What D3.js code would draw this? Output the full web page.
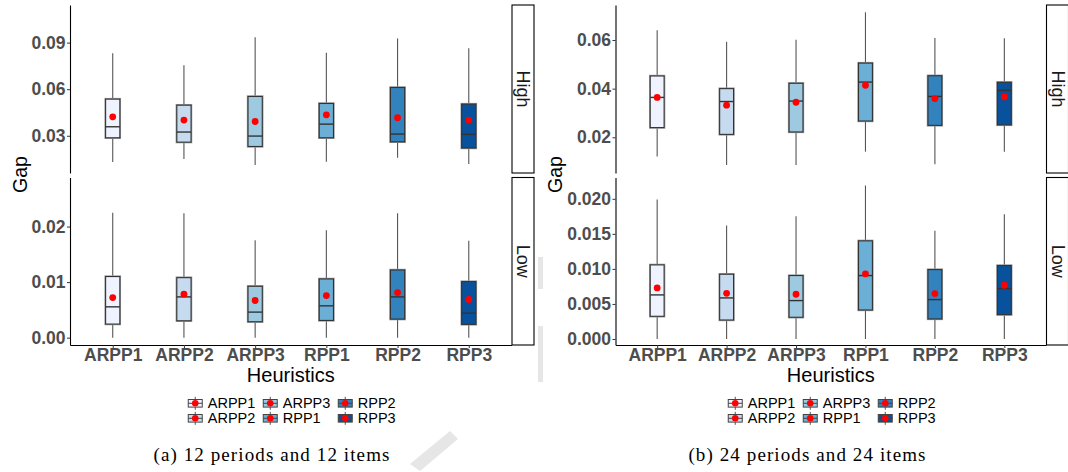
<!DOCTYPE html>
<html>
<head>
<meta charset="utf-8">
<script src="https://cdn.jsdelivr.net/npm/d3@7"></script>
<style>
  body { margin: 0; background: #fff; }
  svg { display: block; }
</style>
</head>
<body>
<div id="chart"></div>
<script>
//////////////////////////// data /////////////////////////////////////////

const heuristics = ["ARPP1", "ARPP2", "ARPP3", "RPP1", "RPP2", "RPP3"];
const fillColors = ["#eff3ff", "#c6dbef", "#9ecae1", "#6baed6", "#3182bd", "#08519c"];
const facetNames = ["High", "Low"];

// one row per heuristic: [lower whisker, Q1, median, Q3, upper whisker, mean]
const gap12High = [
	[0.0131, 0.0287, 0.0358, 0.0536, 0.0831, 0.0422],
	[0.0150, 0.0259, 0.0324, 0.0497, 0.0754, 0.0401],
	[0.0111, 0.0231, 0.0298, 0.0553, 0.0934, 0.0392],
	[0.0133, 0.0287, 0.0375, 0.0508, 0.0834, 0.0435],
	[0.0159, 0.0261, 0.0311, 0.0611, 0.0926, 0.0416],
	[0.0118, 0.0221, 0.0309, 0.0504, 0.0864, 0.0401]
];
const gap12Low = [
	[0, 0.00245, 0.00555, 0.0110, 0.0225, 0.00722],
	[0, 0.00304, 0.00734, 0.0108, 0.0224, 0.00782],
	[0, 0.00287, 0.00460, 0.00925, 0.01755, 0.00669],
	[0, 0.00310, 0.00573, 0.01057, 0.01934, 0.00758],
	[0, 0.00334, 0.00734, 0.01218, 0.0224, 0.00812],
	[0, 0.00239, 0.00442, 0.01009, 0.01743, 0.00687]
];
const gap24High = [
	[0.0121, 0.0240, 0.0364, 0.0452, 0.0640, 0.0364],
	[0.0086, 0.0212, 0.0347, 0.0400, 0.0593, 0.0332],
	[0.0086, 0.0222, 0.0349, 0.0422, 0.0601, 0.0344],
	[0.0141, 0.0267, 0.0427, 0.0505, 0.0714, 0.0414],
	[0.0089, 0.0249, 0.0368, 0.0453, 0.0608, 0.0359],
	[0.0141, 0.0251, 0.0393, 0.0426, 0.0607, 0.0366]
];
const gap24Low = [
	[0, 0.00324, 0.00629, 0.01057, 0.0199, 0.00729],
	[0, 0.00271, 0.00586, 0.00924, 0.0162, 0.00652],
	[0, 0.00310, 0.00548, 0.00905, 0.01752, 0.00638],
	[0, 0.00414, 0.00905, 0.0140, 0.0219, 0.00929],
	[0, 0.00286, 0.00562, 0.0099, 0.01543, 0.00648],
	[0, 0.00348, 0.00719, 0.01048, 0.0178, 0.00767]
];

// axis limits and ticks (free y scales per facet)
const domain12High = [0.00601, 0.11424];
const domain12Low = [-0.00132, 0.02883];
const domain24High = [0.00532, 0.07439];
const domain24Low = [-0.000857, 0.02304];
const ticks12High = [0.03, 0.06, 0.09];
const ticks12Low = [0, 0.01, 0.02];
const ticks24High = [0.02, 0.04, 0.06];
const ticks24Low = [0, 0.005, 0.01, 0.015, 0.02];

const captions = ["(a) 12 periods and 12 items", "(b) 24 periods and 24 items"];

//////////////////////////// svg //////////////////////////////////////////

const width = 1068;
const height = 472;
const sans = "'Liberation Sans', Arial, Helvetica, sans-serif";

const svg = d3.select("#chart").append("svg")
	.attr("width", width)
	.attr("height", height)
	.style("font-family", sans);

// faint watermark remnants in the scanned figure
const wm = svg.append("g").attr("fill", "#e6e6e6");
wm.append("rect").attr("x", 538).attr("y", 257).attr("width", 5).attr("height", 32);
wm.append("rect").attr("x", 538).attr("y", 326).attr("width", 5).attr("height", 56);
wm.append("polygon").attr("points", "410,464 450,431 458,439 420,471");

//////////////////////////// panels ///////////////////////////////////////

const panels = [
	{
		x0: 70, x1: 511.5, caption: captions[0], captionX: 272, gapX: 20,
		facets: [
			{ stats: gap12High, domain: domain12High, ticks: ticks12High, fmt: ".2f", y0: 5, y1: 173 },
			{ stats: gap12Low, domain: domain12Low, ticks: ticks12Low, fmt: ".2f", y0: 177.5, y1: 345 }
		]
	},
	{
		x0: 615.5, x1: 1046, caption: captions[1], captionX: 807.5, gapX: 555,
		facets: [
			{ stats: gap24High, domain: domain24High, ticks: ticks24High, fmt: ".2f", y0: 5, y1: 173 },
			{ stats: gap24Low, domain: domain24Low, ticks: ticks24Low, fmt: ".3f", y0: 177.5, y1: 345 }
		]
	}
];

const styleAxis = (sel) => {
	sel.attr("font-family", sans);
	sel.select(".domain").attr("stroke", "#000").attr("stroke-width", 1.1);
	sel.selectAll(".tick line").attr("stroke", "#333");
	sel.selectAll(".tick text")
		.attr("fill", "#4d4d4d")
		.attr("font-size", "17.5px")
		.attr("font-weight", "bold");
};

const drawBoxGlyph = (g, cx, w, yLo, yQ1, yMed, yQ3, yHi, yMean, color) => {
	g.append("line")
		.attr("x1", cx).attr("x2", cx).attr("y1", yHi).attr("y2", yQ3)
		.attr("stroke", "#555").attr("stroke-width", 1.1);
	g.append("line")
		.attr("x1", cx).attr("x2", cx).attr("y1", yQ1).attr("y2", yLo)
		.attr("stroke", "#555").attr("stroke-width", 1.1);
	g.append("rect")
		.attr("x", cx - w / 2).attr("y", yQ3)
		.attr("width", w).attr("height", yQ1 - yQ3)
		.attr("fill", color)
		.attr("stroke", "#999").attr("stroke-width", 2.4);
	g.append("rect")
		.attr("x", cx - w / 2).attr("y", yQ3)
		.attr("width", w).attr("height", yQ1 - yQ3)
		.attr("fill", color)
		.attr("stroke", "#333").attr("stroke-width", 1.1);
	g.append("line")
		.attr("x1", cx - w / 2).attr("x2", cx + w / 2)
		.attr("y1", yMed).attr("y2", yMed)
		.attr("stroke", "#333").attr("stroke-width", 1.4);
	g.append("circle")
		.attr("cx", cx).attr("cy", yMean).attr("r", 3.4)
		.attr("fill", "#ff0000");
};

panels.forEach((p) => {
	const xScale = d3.scalePoint().domain(heuristics).range([p.x0, p.x1]).padding(0.6);
	const boxW = xScale.step() * 0.2;

	p.facets.forEach((f, fi) => {
		const yScale = d3.scaleLinear().domain(f.domain).range([f.y1, f.y0]);
		const g = svg.append("g");

		// y axis
		const yAxis = d3.axisLeft(yScale)
			.tickValues(f.ticks)
			.tickFormat(d3.format(f.fmt))
			.tickSize(3)
			.tickSizeOuter(0)
			.tickPadding(1.5);
		g.append("g")
			.attr("transform", `translate(${p.x0},0)`)
			.call(yAxis)
			.call(styleAxis);

		// x axis only under the last facet
		if (fi === p.facets.length - 1) {
			const xAxis = d3.axisBottom(xScale).tickSize(3).tickSizeOuter(0).tickPadding(1);
			g.append("g")
				.attr("transform", `translate(0,${f.y1})`)
				.call(xAxis)
				.call(styleAxis);
		}

		// boxes
		const boxes = g.append("g");
		f.stats.forEach((s, i) => {
			drawBoxGlyph(
				boxes, xScale(heuristics[i]), boxW,
				yScale(s[0]), yScale(s[1]), yScale(s[2]), yScale(s[3]), yScale(s[4]), yScale(s[5]),
				fillColors[i]
			);
		});

		// strip
		const stripX = p.x1 + 0.5;
		g.append("rect")
			.attr("x", stripX).attr("y", f.y0)
			.attr("width", 22).attr("height", f.y1 - f.y0)
			.attr("fill", "#fff").attr("stroke", "#000").attr("stroke-width", 1.1);
		const sx = stripX + 11;
		const sy = (f.y0 + f.y1) / 2;
		g.append("text")
			.attr("transform", `translate(${sx},${sy}) rotate(90)`)
			.attr("text-anchor", "middle")
			.attr("dominant-baseline", "central")
			.attr("font-size", "18px")
			.attr("fill", "#1a1a1a")
			.text(facetNames[fi]);
	});

	// axis titles
	svg.append("text")
		.attr("transform", `translate(${p.gapX},174.5) rotate(-90)`)
		.attr("text-anchor", "middle")
		.attr("dominant-baseline", "central")
		.attr("font-size", "19.5px")
		.text("Gap");

	svg.append("text")
		.attr("x", (p.x0 + p.x1) / 2)
		.attr("y", 381.5)
		.attr("text-anchor", "middle")
		.attr("font-size", "20px")
		.text("Heuristics");

	// legend
	const legendX = (p.x0 + p.x1) / 2 - 103;
	const legend = svg.append("g").attr("transform", `translate(${legendX},0)`);
	heuristics.forEach((h, i) => {
		const col = Math.floor(i / 2);
		const row = i % 2;
		const cx = col * 75 + 7.5;
		const cy = 403.3 + row * 15;
		const item = legend.append("g");
		item.append("line")
			.attr("x1", cx).attr("x2", cx).attr("y1", cy - 6.5).attr("y2", cy + 6.5)
			.attr("stroke", "#555").attr("stroke-width", 1);
		item.append("rect")
			.attr("x", cx - 7).attr("y", cy - 3.8).attr("width", 14).attr("height", 7.6)
			.attr("fill", fillColors[i]).attr("stroke", "#444").attr("stroke-width", 1);
		item.append("line")
			.attr("x1", cx - 7).attr("x2", cx + 7).attr("y1", cy).attr("y2", cy)
			.attr("stroke", "#444").attr("stroke-width", 1);
		item.append("circle")
			.attr("cx", cx).attr("cy", cy).attr("r", 3.3).attr("fill", "#ff0000");
		item.append("text")
			.attr("x", col * 75 + 20)
			.attr("y", cy)
			.attr("dominant-baseline", "central")
			.attr("font-size", "14.5px")
			.text(h);
	});

	// caption
	svg.append("text")
		.attr("x", p.captionX)
		.attr("y", 461)
		.attr("text-anchor", "middle")
		.attr("font-family", "'Liberation Serif', 'Times New Roman', serif")
		.attr("font-size", "19px")
		.attr("letter-spacing", "1.1px")
		.text(p.caption);
});
</script>
</body>
</html>
